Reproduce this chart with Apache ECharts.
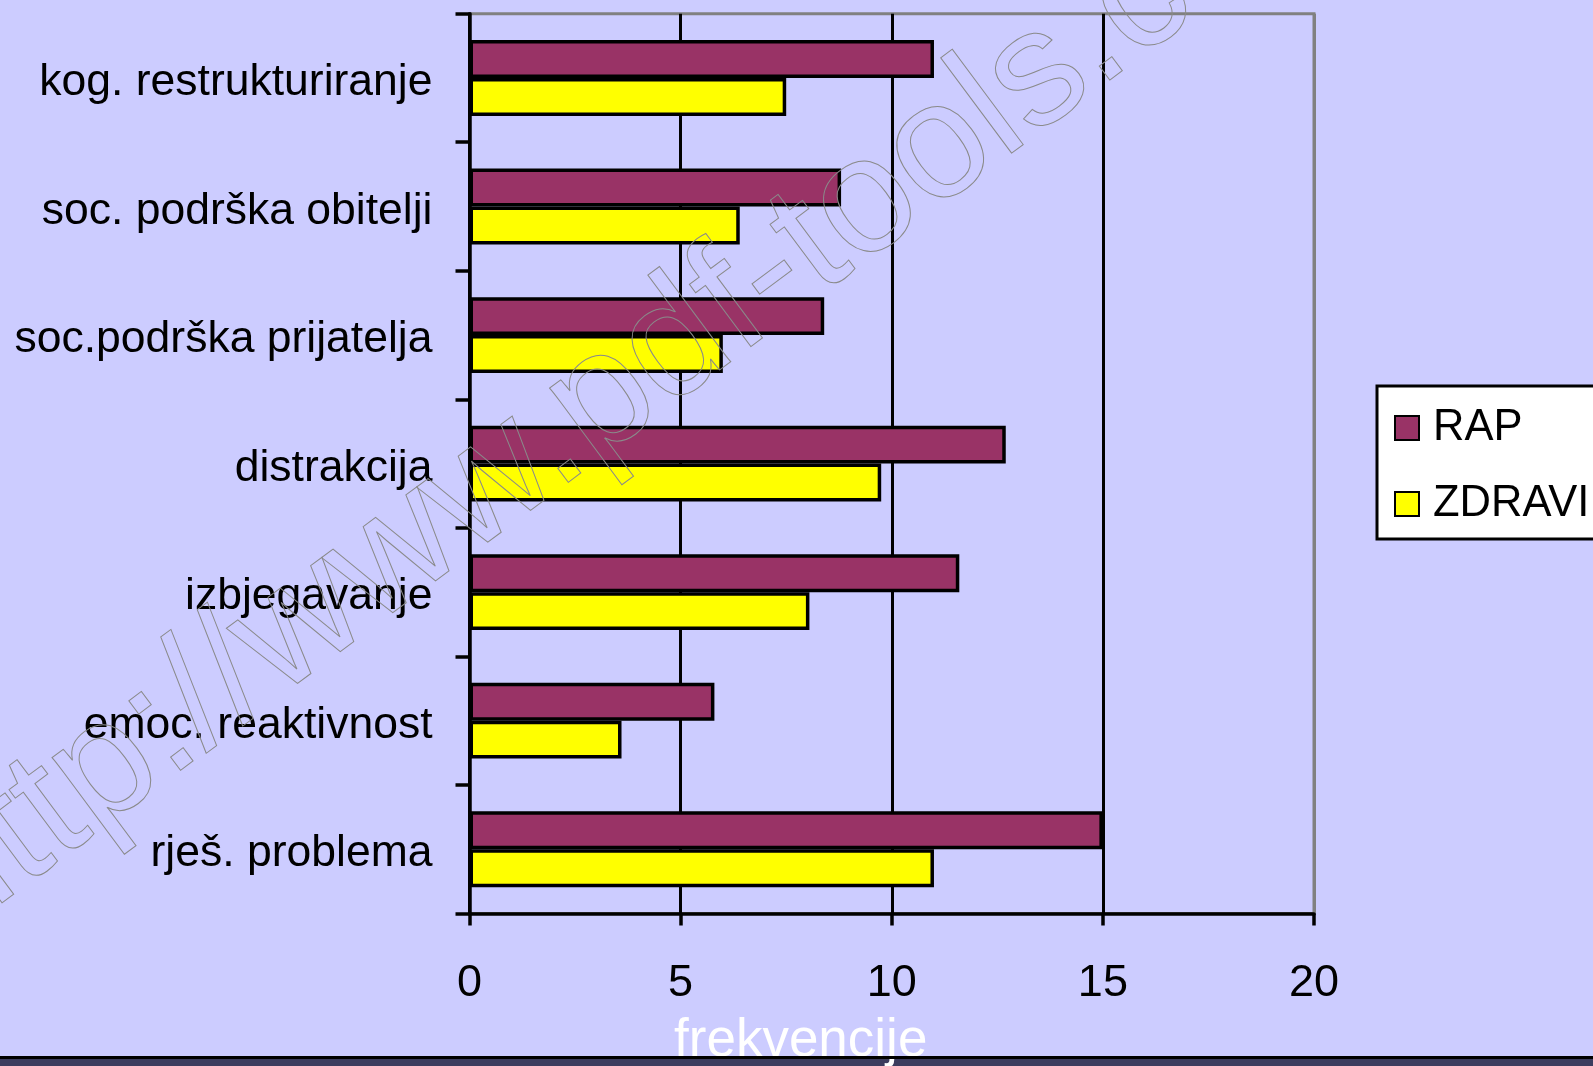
<!DOCTYPE html>
<html>
<head>
<meta charset="utf-8">
<script src="https://cdn.jsdelivr.net/npm/echarts@6/dist/echarts.min.js"></script>
<style>
  html, body { margin: 0; padding: 0; background: #ccccff; }
  #chart { width: 1593px; height: 1066px; }
</style>
</head>
<body>
<div id="chart"></div>
<script>
// Coping strategies: frequencies for the RAP group and healthy controls
const categories = [
  'kog. restrukturiranje',
  'soc. podrška obitelji',
  'soc.podrška prijatelja',
  'distrakcija',
  'izbjegavanje',
  'emoc. reaktivnost',
  'rješ. problema'
];
const rapValues = [11, 8.8, 8.4, 12.7, 11.6, 5.8, 15];
const zdraviValues = [7.5, 6.4, 6.0, 9.75, 8.05, 3.6, 11];
const seriesNames = ['RAP', 'ZDRAVI'];
const axisMin = 0, axisMax = 20, axisStep = 5;
const axisTitle = 'frekvencije';
const stampText = 'http://www.pdf-tools.com';

const chart = echarts.init(document.getElementById('chart'), null, { renderer: 'canvas' });

const sans = '"Liberation Sans", Arial, sans-serif';
const barBorder = { borderColor: '#000', borderWidth: 3.5 };
const stampAngle = 36.6 * Math.PI / 180;

chart.setOption({
  backgroundColor: '#ccccff',
  animation: false,
  grid: {
    left: 469.5, right: 279, top: 13.7, bottom: 152.5,
    show: true, borderColor: '#808080', borderWidth: 3,
    backgroundColor: 'transparent',
    containLabel: false, outerBoundsMode: 'none'
  },
  legend: {
    data: seriesNames,
    orient: 'vertical',
    left: 1377, top: 386,
    padding: [20, 24, 13, 17],
    backgroundColor: '#ffffff',
    borderColor: '#000', borderWidth: 3,
    itemWidth: 24, itemHeight: 24, itemGap: 32,
    icon: 'rect',
    textStyle: {
      fontFamily: sans,
      fontSize: 43.5, color: '#000',
      padding: [0, 0, 0, 9]
    }
  },
  xAxis: {
    type: 'value',
    min: axisMin, max: axisMax, interval: axisStep,
    axisLine: { show: true, lineStyle: { color: '#000', width: 3.5 } },
    axisTick: { show: true, length: 12, lineStyle: { color: '#000', width: 3.5 } },
    axisLabel: {
      margin: 48, color: '#000', fontSize: 45,
      fontFamily: sans
    },
    splitLine: {
      show: true,
      lineStyle: { color: ['#000', '#000', '#000', '#000', '#808080'], width: 3 }
    }
  },
  yAxis: {
    type: 'category',
    data: categories,
    inverse: true,
    axisLine: { show: true, lineStyle: { color: '#000', width: 3.5 } },
    axisTick: { show: true, length: 14, lineStyle: { color: '#000', width: 3.5 } },
    axisLabel: {
      margin: 37, color: '#000', fontSize: 44.5,
      fontFamily: sans,
      verticalAlign: 'top', lineHeight: 10
    },
    splitLine: { show: false }
  },
  series: [
    {
      name: seriesNames[0], type: 'bar', data: rapValues,
      barGap: '0%', barCategoryGap: '41%',
      itemStyle: Object.assign({ color: '#993366' }, barBorder)
    },
    {
      name: seriesNames[1], type: 'bar', data: zdraviValues,
      barGap: '0%', barCategoryGap: '41%',
      itemStyle: Object.assign({ color: '#ffff00' }, barBorder)
    }
  ],
  graphic: [
    {
      type: 'rect', z: 90, silent: true,
      shape: { x: 0, y: 1059, width: 1593, height: 7 },
      style: { fill: '#3c3c5e' }
    },
    {
      type: 'text', z: 91, silent: true,
      x: 800.7, y: 1041.5,
      style: {
        text: axisTitle,
        font: '53px "Liberation Sans", Arial, sans-serif',
        fill: '#ffffff',
        textAlign: 'center', textVerticalAlign: 'middle',
        align: 'center', verticalAlign: 'middle'
      }
    },
    {
      type: 'rect', z: 92, silent: true,
      shape: { x: 0, y: 1056, width: 1593, height: 3 },
      style: { fill: '#000' }
    },
    {
      type: 'text', z: 100, silent: true,
      x: -78, y: 906, rotation: stampAngle,
      style: {
        text: stampText,
        font: '164px "Liberation Sans", Arial, sans-serif',
        fill: 'transparent',
        stroke: '#8a8a8a', lineWidth: 1,
        textAlign: 'left', textVerticalAlign: 'middle',
        align: 'left', verticalAlign: 'middle'
      }
    }
  ]
});
</script>
</body>
</html>
